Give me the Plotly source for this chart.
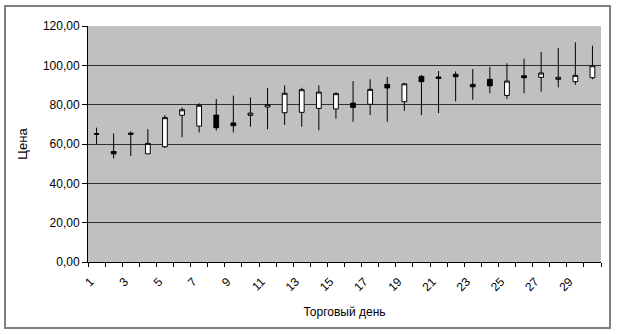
import plotly.graph_objects as go

days = list(range(1, 31))
open_ = [65.3, 56.2, 65.5, 55.0, 58.6, 74.6, 69.1, 74.7, 70.7, 74.6,
         78.8, 75.9, 76.1, 78.1, 77.8, 80.8, 80.2, 90.3, 81.5, 94.4,
         94.1, 95.4, 90.3, 92.9, 84.7, 94.7, 93.9, 92.9, 91.7, 93.7]
close = [65.0, 55.0, 65.0, 60.3, 73.4, 77.4, 79.7, 68.3, 69.3, 75.7,
         80.0, 85.8, 87.6, 86.4, 85.6, 78.6, 87.8, 88.5, 90.6, 91.7,
         93.3, 94.2, 89.1, 89.6, 92.0, 93.7, 96.1, 93.9, 94.9, 99.8]
high = [68.3, 65.4, 66.4, 67.5, 74.7, 78.6, 80.7, 82.9, 84.6, 83.7,
        88.5, 89.8, 88.6, 89.8, 86.3, 92.0, 92.9, 94.1, 91.0, 95.1,
        97.1, 96.9, 98.1, 99.3, 101.0, 103.4, 106.8, 108.8, 111.7, 110.0]
low = [60.0, 52.7, 53.9, 54.9, 58.0, 63.4, 65.9, 66.8, 65.9, 68.8,
       67.5, 69.7, 68.8, 67.0, 72.9, 71.3, 74.7, 71.3, 76.8, 74.7,
       75.7, 81.7, 82.5, 85.8, 82.9, 85.8, 86.6, 88.8, 90.1, 92.9]
label_days = list(range(1, 30, 2))
y_ticks = [0, 20, 40, 60, 80, 100, 120]

fig = go.Figure()
fig.add_trace(go.Candlestick(
    x=days, open=open_, high=high, low=low, close=close,
    increasing=dict(line=dict(color="black", width=1), fillcolor="white"),
    decreasing=dict(line=dict(color="black", width=1), fillcolor="black"),
    whiskerwidth=0, showlegend=False, hoverinfo="skip",
))

L, R, T, B = 88, 16, 26, 72
W, H = 617, 334
pw, ph = W - L - R, H - T - B

fig.add_shape(type="rect", xref="paper", yref="paper",
              x0=(5 - L) / pw, x1=(610 - L) / pw,
              y0=(H - B - 328) / ph, y1=(H - B - 6) / ph,
              line=dict(color="#808080", width=2), fillcolor="rgba(0,0,0,0)",
              layer="below")

fig.update_layout(
    width=W, height=H,
    margin=dict(l=L, r=R, t=T, b=B),
    paper_bgcolor="white", plot_bgcolor="#C0C0C0",
    separators=", ",
    boxgap=0.6,
    font=dict(family="Liberation Sans, Arial, sans-serif", size=12, color="black"),
    xaxis=dict(
        range=[0.5, 30.5], rangeslider=dict(visible=False),
        tickmode="array", tickvals=label_days, ticktext=[str(d) for d in label_days],
        tickangle=-45, ticks="", showgrid=False, zeroline=False,
        showline=True, linecolor="black", linewidth=1,
        ticklabelshift=-6, ticklabelstandoff=7,
        minor=dict(tick0=0.5, dtick=1, ticks="outside", ticklen=4,
                   tickcolor="black", showgrid=False),
        title=dict(text="Торговый день", font=dict(size=12), standoff=14),
        tickfont=dict(size=12),
    ),
    yaxis=dict(
        range=[0, 120], tickmode="array", tickvals=y_ticks,
        tickformat=".2f", ticks="outside", ticklen=5, tickcolor="black",
        showgrid=True, gridcolor="#303030", gridwidth=1,
        zeroline=False, showline=True, linecolor="black", linewidth=1,
        title=dict(text="Цена", font=dict(size=13), standoff=12),
        tickfont=dict(size=12),
    ),
)

fig.write_html("out.html")
